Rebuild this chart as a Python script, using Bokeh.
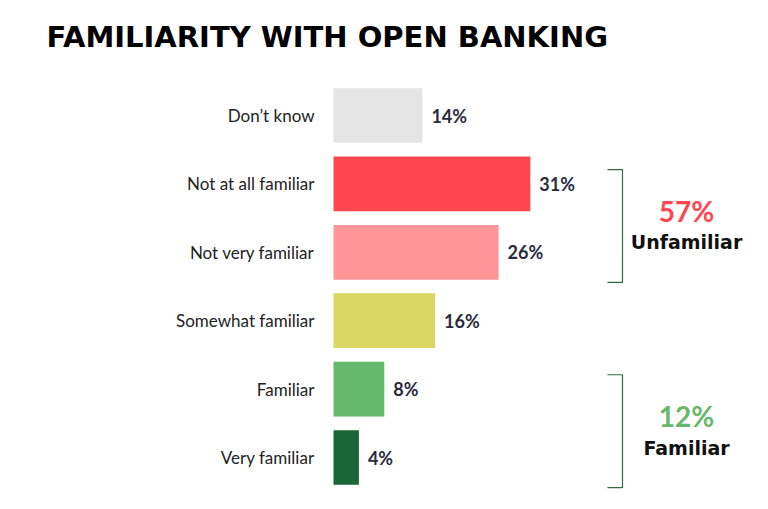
from bokeh.plotting import figure
from bokeh.models import ColumnDataSource, Label, Range1d
from bokeh.embed import file_html
from bokeh.resources import INLINE
from bokeh.core.properties import value

categories = ["Don\u2019t know", "Not at all familiar", "Not very familiar",
              "Somewhat familiar", "Familiar", "Very familiar"]
values = [14, 31, 26, 16, 8, 4]
colors = ["#E3E4E3", "#FF4651", "#FF9597", "#DAD862", "#66B86A", "#1A6634"]
value_labels = ["14%", "31%", "26%", "16%", "8%", "4%"]

group_totals = ["57%", "12%"]
group_names = ["Unfamiliar", "Familiar"]
group_colors = ["#FF4651", "#66B86A"]
group_rows = [[1, 2], [4, 5]]  # indices into categories

W, H = 752, 493
PX_PER_PCT = 6.35
ZERO_PX = 333
PX_PER_ROW = 68.4
TOP_ROW_PX = 115

n = len(categories)
ys = [n - 1 - i for i in range(n)]

x0 = -ZERO_PX / PX_PER_PCT
x1 = x0 + W / PX_PER_PCT
ytop = (n - 1) + TOP_ROW_PX / PX_PER_ROW
ybot = ytop - H / PX_PER_ROW

p = figure(width=W, height=H, output_backend="svg", toolbar_location=None,
           x_range=Range1d(x0, x1), y_range=Range1d(ybot, ytop),
           min_border=0, outline_line_color=None)
p.axis.visible = False
p.grid.visible = False
p.background_fill_color = "white"
p.border_fill_color = "white"

src = ColumnDataSource(dict(y=ys, v=values, c=colors, lab=value_labels, cat=categories,
                            lx=[v + 9 / PX_PER_PCT for v in values],
                            cx=[-19 / PX_PER_PCT] * n))
p.hbar(y="y", left=0, right="v", height=0.8, fill_color="c", line_color=None, source=src)
p.text(x="lx", y="y", text="lab", source=src, text_font=value("Lato"),
       text_font_style="bold", text_font_size="18px", text_color="#2A2A3C",
       text_baseline="middle", text_align="left")
p.text(x="cx", y="y", text="cat", source=src, text_font=value("Lato"),
       text_font_size="17px", text_color="#222222",
       text_baseline="middle", text_align="right")

# brackets and group annotations
bx_in = (607 - ZERO_PX) / PX_PER_PCT
bx_out = (622 - ZERO_PX) / PX_PER_PCT
tx = (686 - ZERO_PX) / PX_PER_PCT
for g in range(2):
    rows = [ys[i] for i in group_rows[g]]
    top = max(rows) + 0.21
    bot = min(rows) - 0.44
    p.line(x=[bx_in, bx_out, bx_out, bx_in], y=[top, top, bot, bot],
           line_color="#2E6B3E", line_width=1.2)
    mid = (top + bot) / 2
    p.text(x=[tx], y=[mid + 0.22], text=[group_totals[g]], text_font=value("Lato"),
           text_font_style="bold", text_font_size="28px", text_color=group_colors[g],
           text_align="center", text_baseline="middle")
    p.text(x=[tx], y=[mid - 0.24], text=[group_names[g]], text_font=value("DejaVu Sans"),
           text_font_style="bold", text_font_size="19px", text_color="#111111",
           text_align="center", text_baseline="middle")

title = Label(x=46, y=H - 36, x_units="screen", y_units="screen",
              text="FAMILIARITY WITH OPEN BANKING", text_font="DejaVu Sans",
              text_font_style="bold", text_font_size="29px", text_color="#000000",
              text_baseline="alphabetic", text_align="left")
p.add_layout(title)

open("out.html", "w").write(file_html(p, INLINE))
